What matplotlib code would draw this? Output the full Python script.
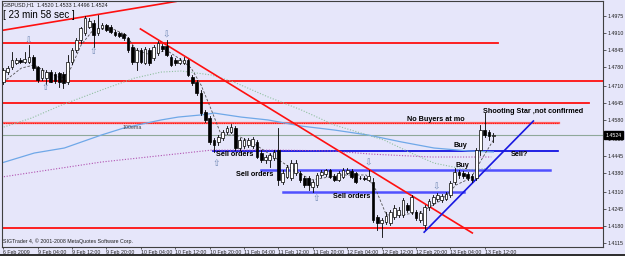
import matplotlib
matplotlib.use('Agg')
import matplotlib.pyplot as plt
from matplotlib.patches import Rectangle

# ---------------- data ----------------
opens = [1.4724, 1.4762, 1.4781, 1.4796, 1.4808, 1.4800, 1.4800, 1.4819, 1.4781, 1.4739,
         1.4739, 1.4762, 1.4754, 1.4758, 1.4754, 1.4724, 1.4800, 1.4845, 1.4883, 1.4909,
         1.4932, 1.4947, 1.4909, 1.4928, 1.4940, 1.4932, 1.4913, 1.4909, 1.4906, 1.4891,
         1.4857, 1.4800, 1.4845, 1.4796, 1.4845, 1.4815, 1.4834, 1.4860, 1.4860, 1.4819,
         1.4808, 1.4796, 1.4796, 1.4808, 1.4743, 1.4724, 1.4683, 1.4611, 1.4588, 1.4505,
         1.4498, 1.4513, 1.4535, 1.4535, 1.4551, 1.4475, 1.4482, 1.4486, 1.4482, 1.4498,
         1.4456, 1.4430, 1.4430, 1.4437, 1.4467, 1.4346, 1.4365, 1.4362, 1.4380, 1.4380,
         1.4362, 1.4362, 1.4327, 1.4335, 1.4373, 1.4377, 1.4392, 1.4369, 1.4354, 1.4365,
         1.4380, 1.4388, 1.4380, 1.4362, 1.4362, 1.4354, 1.4346, 1.4214, 1.4191, 1.4195,
         1.4191, 1.4214, 1.4222, 1.4222, 1.4259, 1.4233, 1.4233, 1.4203, 1.4184, 1.4252,
         1.4267, 1.4282, 1.4278, 1.4282, 1.4297, 1.4346, 1.4384, 1.4380, 1.4377, 1.4369,
         1.4362, 1.4467, 1.4543, 1.4535, 1.4520]
highs = [1.4777, 1.4785, 1.4838, 1.4815, 1.4815, 1.4838, 1.4864, 1.4826, 1.4785, 1.4777,
         1.4770, 1.4770, 1.4762, 1.4762, 1.4762, 1.4826, 1.4853, 1.4891, 1.4932, 1.4974,
         1.4966, 1.4959, 1.4978, 1.4947, 1.4944, 1.4940, 1.4921, 1.4913, 1.4909, 1.4894,
         1.4864, 1.4853, 1.4853, 1.4857, 1.4853, 1.4864, 1.4879, 1.4868, 1.4883, 1.4826,
         1.4815, 1.4815, 1.4819, 1.4811, 1.4751, 1.4732, 1.4694, 1.4619, 1.4596, 1.4513,
         1.4524, 1.4543, 1.4558, 1.4565, 1.4558, 1.4513, 1.4513, 1.4513, 1.4516, 1.4505,
         1.4467, 1.4448, 1.4456, 1.4467, 1.4551, 1.4392, 1.4411, 1.4430, 1.4430, 1.4388,
         1.4369, 1.4369, 1.4354, 1.4380, 1.4392, 1.4396, 1.4396, 1.4377, 1.4388, 1.4399,
         1.4399, 1.4396, 1.4384, 1.4369, 1.4369, 1.4392, 1.4362, 1.4222, 1.4210, 1.4233,
         1.4240, 1.4259, 1.4252, 1.4286, 1.4267, 1.4297, 1.4240, 1.4237, 1.4259, 1.4282,
         1.4297, 1.4305, 1.4301, 1.4309, 1.4350, 1.4399, 1.4392, 1.4388, 1.4384, 1.4377,
         1.4475, 1.4562, 1.4607, 1.4543, 1.4533]
lows = [1.4717, 1.4754, 1.4773, 1.4792, 1.4796, 1.4796, 1.4796, 1.4770, 1.4724, 1.4732,
        1.4717, 1.4724, 1.4720, 1.4705, 1.4702, 1.4717, 1.4792, 1.4838, 1.4872, 1.4902,
        1.4928, 1.4857, 1.4902, 1.4925, 1.4917, 1.4909, 1.4898, 1.4894, 1.4883, 1.4838,
        1.4792, 1.4770, 1.4796, 1.4792, 1.4789, 1.4808, 1.4826, 1.4842, 1.4823, 1.4785,
        1.4789, 1.4792, 1.4792, 1.4747, 1.4713, 1.4675, 1.4600, 1.4573, 1.4490, 1.4460,
        1.4486, 1.4505, 1.4528, 1.4532, 1.4467, 1.4467, 1.4475, 1.4479, 1.4475, 1.4437,
        1.4422, 1.4418, 1.4403, 1.4430, 1.4335, 1.4339, 1.4362, 1.4354, 1.4373, 1.4346,
        1.4327, 1.4316, 1.4309, 1.4327, 1.4365, 1.4369, 1.4362, 1.4350, 1.4350, 1.4362,
        1.4377, 1.4362, 1.4342, 1.4358, 1.4354, 1.4350, 1.4195, 1.4165, 1.4139, 1.4187,
        1.4184, 1.4206, 1.4214, 1.4214, 1.4233, 1.4225, 1.4203, 1.4195, 1.4169, 1.4240,
        1.4259, 1.4274, 1.4271, 1.4278, 1.4290, 1.4339, 1.4362, 1.4362, 1.4354, 1.4346,
        1.4354, 1.4448, 1.4516, 1.4505, 1.4496]
closes = [1.4770, 1.4777, 1.4808, 1.4808, 1.4800, 1.4811, 1.4819, 1.4777, 1.4732, 1.4770,
          1.4762, 1.4724, 1.4728, 1.4724, 1.4720, 1.4800, 1.4845, 1.4883, 1.4928, 1.4966,
          1.4955, 1.4902, 1.4928, 1.4940, 1.4921, 1.4913, 1.4902, 1.4898, 1.4891, 1.4845,
          1.4800, 1.4845, 1.4800, 1.4849, 1.4796, 1.4857, 1.4872, 1.4849, 1.4826, 1.4789,
          1.4796, 1.4808, 1.4808, 1.4751, 1.4720, 1.4683, 1.4607, 1.4581, 1.4498, 1.4486,
          1.4516, 1.4535, 1.4551, 1.4554, 1.4475, 1.4505, 1.4505, 1.4505, 1.4509, 1.4441,
          1.4430, 1.4441, 1.4448, 1.4460, 1.4354, 1.4380, 1.4403, 1.4418, 1.4418, 1.4354,
          1.4335, 1.4335, 1.4346, 1.4373, 1.4384, 1.4392, 1.4365, 1.4354, 1.4380, 1.4392,
          1.4392, 1.4365, 1.4346, 1.4362, 1.4358, 1.4369, 1.4203, 1.4191, 1.4203, 1.4218,
          1.4233, 1.4248, 1.4240, 1.4278, 1.4240, 1.4290, 1.4210, 1.4229, 1.4252, 1.4274,
          1.4290, 1.4297, 1.4293, 1.4301, 1.4342, 1.4384, 1.4373, 1.4369, 1.4362, 1.4354,
          1.4467, 1.4543, 1.4524, 1.4520, 1.4524]

x_tick_pos = [0, 8, 16, 24, 32, 40, 48, 56, 64, 72, 80, 88, 96, 104, 112]
x_tick_labels = ["6 Feb 2009", "9 Feb 04:00", "9 Feb 12:00", "9 Feb 20:00", "10 Feb 04:00",
                 "10 Feb 12:00", "10 Feb 20:00", "11 Feb 04:00", "11 Feb 12:00", "11 Feb 20:00",
                 "12 Feb 04:00", "12 Feb 12:00", "12 Feb 20:00", "13 Feb 04:00", "13 Feb 12:00"]
y_ticks = [1.4975, 1.4910, 1.4845, 1.4780, 1.4710, 1.4645, 1.4580, 1.4510,
           1.4445, 1.4380, 1.4310, 1.4245, 1.4180, 1.4115]

# moving averages (vertices: bar index, price)
ema100_x = [-0.5, 7.2, 14.2, 22.8, 28.1, 36.7, 40.7, 46, 49.1, 55.3, 61.6, 69.3, 77, 84.9, 92.6, 100.2, 108.1, 114]
ema100_y = [1.4418, 1.4456, 1.4475, 1.4524, 1.4551, 1.4581, 1.4592, 1.4600, 1.4607, 1.4592,
            1.4581, 1.4558, 1.4543, 1.4524, 1.4498, 1.4475, 1.4464, 1.4460]
green_x = [-0.5, 6.5, 13.5, 22.8, 30.5, 36.7, 41.4, 48.4, 53.7, 61.6, 69.3, 77, 88.6, 94.9, 100.2, 108.1, 113.5]
green_y = [1.4551, 1.4588, 1.4637, 1.4694, 1.4739, 1.4762, 1.4766, 1.4751, 1.4724, 1.4668,
           1.4619, 1.4562, 1.4505, 1.4456, 1.4418, 1.4392, 1.4399]
purple_x = [-0.5, 22.8, 48.4, 64.7, 76.3, 85.6, 99.5, 113.5]
purple_y = [1.4365, 1.4422, 1.4467, 1.4467, 1.4464, 1.4452, 1.4441, 1.4441]
fast_x = [0, 4.2, 7.2, 10, 13.5, 15.3, 18.1, 20.9, 25.1, 28.6, 30.9, 34.4, 37.9, 41.4, 43.7, 46,
          48.4, 50.7, 54.2, 58.8, 62.3, 67, 71.6, 78.6, 84.4, 86.7, 89.1, 92.6, 97.2, 101.9,
          105.3, 108.8, 111.2, 114]
fast_y = [1.4724, 1.4777, 1.4789, 1.4762, 1.4739, 1.4762, 1.4864, 1.4921, 1.4928, 1.4902,
          1.4845, 1.4826, 1.4845, 1.4808, 1.4777, 1.4713, 1.4619, 1.4524, 1.4524, 1.4486,
          1.4448, 1.4399, 1.4354, 1.4373, 1.4373, 1.4316, 1.4222, 1.4222, 1.4233, 1.4278,
          1.4335, 1.4362, 1.4430, 1.4505]

# fractal arrows
frac_up_x = [5.8, 37.9, 84.9, 100.7]          # above highs
frac_up_y = [1.4879, 1.4902, 1.4418, 1.4327]
frac_dn_x = [9.8, 20.9, 49.6, 72.8]           # below lows
frac_dn_y = [1.4705, 1.4838, 1.4416, 1.4286]

# ---------------- figure ----------------
BG = '#E6E6FA'
fig = plt.figure(figsize=(6.25, 2.56), dpi=100)
fig.patch.set_facecolor(BG)
ax = fig.add_axes([2/625, 9/256, 601/625, 246/256])
ax.set_facecolor(BG)
ax.set_xlim(-0.3, 139.5)
ax.set_ylim(1.41009, 1.50306)

# horizontal / trend lines
red = '#FF1010'
ax.plot([-1, 115.1], [1.4870, 1.4870], color=red, lw=1.3, zorder=2)
ax.axhline(1.4728, color=red, lw=1.3, zorder=2)
ax.plot([-1, 136.3], [1.4647, 1.4647], color=red, lw=1.3, zorder=2)
ax.plot([-1, 129.3], [1.4571, 1.4571], color='#FF6060', lw=1.6, zorder=2)
ax.plot([-1, 129.3], [1.4571, 1.4571], color=red, lw=0.8, ls=(0, (1, 1)), zorder=2)
ax.axhline(1.4171, color=red, lw=1.3, zorder=2)
ax.plot([-0.47, 40.2], [1.4919, 1.5029], color=red, lw=1.2, zorder=2)
ax.plot([31.9, 109.1], [1.4925, 1.4154], color=red, lw=1.2, zorder=4)
ax.axhline(1.4524, color='#8FA89A', lw=0.8, zorder=1)

ax.plot([48.8, 129.1], [1.4465, 1.4465], color='#0000E0', lw=1.2, zorder=2)
ax.plot([60, 127.2], [1.4393, 1.4393], color='#5050FF', lw=1.8, zorder=2)
ax.plot([65.1, 107.2], [1.4309, 1.4309], color='#5050FF', lw=1.8, zorder=2)
ax.plot([97.9, 123.3], [1.4157, 1.4577], color='#1818E0', lw=1.2, zorder=4)

# moving averages
ax.plot(ema100_x, ema100_y, color='#6FA8E8', lw=0.9, zorder=2)
ax.plot(green_x, green_y, color='#90C0A0', lw=0.8, ls=(0, (1, 1.5)), zorder=2)
ax.plot(purple_x, purple_y, color='#B050B0', lw=0.8, ls=(0, (1, 1.5)), zorder=2)
ax.plot(fast_x, fast_y, color='#505050', lw=0.6, ls=(0, (3, 2)), zorder=3)

# candles
bw = 0.62
for i, (o, h, l, c) in enumerate(zip(opens, highs, lows, closes)):
    ax.plot([i, i], [l, h], color='black', lw=0.6, zorder=5)
    bottom = min(o, c)
    height = max(abs(c - o), 0.00005)
    face = 'white' if c >= o else 'black'
    ax.add_patch(Rectangle((i - bw / 2, bottom), bw, height, facecolor=face,
                           edgecolor='black', lw=0.5, zorder=6))

for x, y in zip(frac_up_x, frac_up_y):
    ax.text(x, y, '\u21e9', ha='center', va='center', fontsize=6.5, color='#6F88B4',
            family='DejaVu Sans', zorder=7)
for x, y in zip(frac_dn_x, frac_dn_y):
    ax.text(x, y, '\u21e7', ha='center', va='center', fontsize=6.5, color='#6F88B4',
            family='DejaVu Sans', zorder=7)

# annotations
bold = dict(fontsize=5.2, fontweight='bold', family='Liberation Sans', color='black',
            va='center', ha='left', zorder=8)
ax.text(94, 1.4582, 'No Buyers at mo', **bold)
ax.text(111.6, 1.4612, 'Shooting Star ,not confirmed', **bold)
ax.text(104.7, 1.4483, 'Buy', **bold)
ax.text(105.1, 1.4408, 'Buy', **bold)
ax.text(118.1, 1.4449, 'Sell?', **bold)
ax.text(49.5, 1.4451, 'Sell orders', **bold)
ax.text(54.2, 1.4375, 'Sell orders', **bold)
ax.text(76.7, 1.4293, 'Sell orders', **bold)
ax.text(30, 1.4554, '100ema', fontsize=3.8, family='Liberation Sans', color='#404040',
        ha='center', va='center', zorder=8)

ax.text(0.002, 0.996, 'GBPUSD,H1  1.4520 1.4533 1.4496 1.4524', transform=ax.transAxes,
        fontsize=3.9, family='Liberation Sans', color='#202020', ha='left', va='top', zorder=8)
ax.text(0.002, 0.943, '[ 23 min 58 sec ]', transform=ax.transAxes,
        fontsize=7, family='Liberation Sans', color='black', ha='left', va='center', zorder=8)
ax.text(0.002, 0.022, 'SIGTrader 4, \u00a9 2001-2008 MetaQuotes Software Corp.',
        transform=ax.transAxes, fontsize=3.8, family='Liberation Sans', color='#202020',
        ha='left', va='center', zorder=8)

# axes styling
for s in ax.spines.values():
    s.set_color('#404040')
    s.set_linewidth(0.8)
ax.yaxis.tick_right()
ax.set_yticks(y_ticks)
ax.set_yticklabels(['%.4f' % v for v in y_ticks])
ax.set_xticks(x_tick_pos)
ax.set_xticklabels(x_tick_labels, ha='left')
ax.tick_params(axis='y', labelsize=3.8, length=2, width=0.5, colors='#202020', pad=1)
ax.tick_params(axis='x', labelsize=3.8, length=1.5, width=0.5, colors='#202020', pad=0.3)
for lab in ax.get_xticklabels() + ax.get_yticklabels():
    lab.set_family('Liberation Sans')

ax.annotate('1.4524', xy=(1.004, 1.4524), xycoords=('axes fraction', 'data'),
            ha='left', va='center', fontsize=3.8, color='white', family='Liberation Sans',
            bbox=dict(boxstyle='square,pad=0.2', fc='black', ec='black'),
            annotation_clip=False, zorder=10)

# dark strip at the bottom of the window
fig.add_artist(Rectangle((0, 0), 1, 2.5/256, transform=fig.transFigure,
                         facecolor='#303030', edgecolor='none'))

fig.savefig('out.png', dpi=100, facecolor=fig.get_facecolor())
